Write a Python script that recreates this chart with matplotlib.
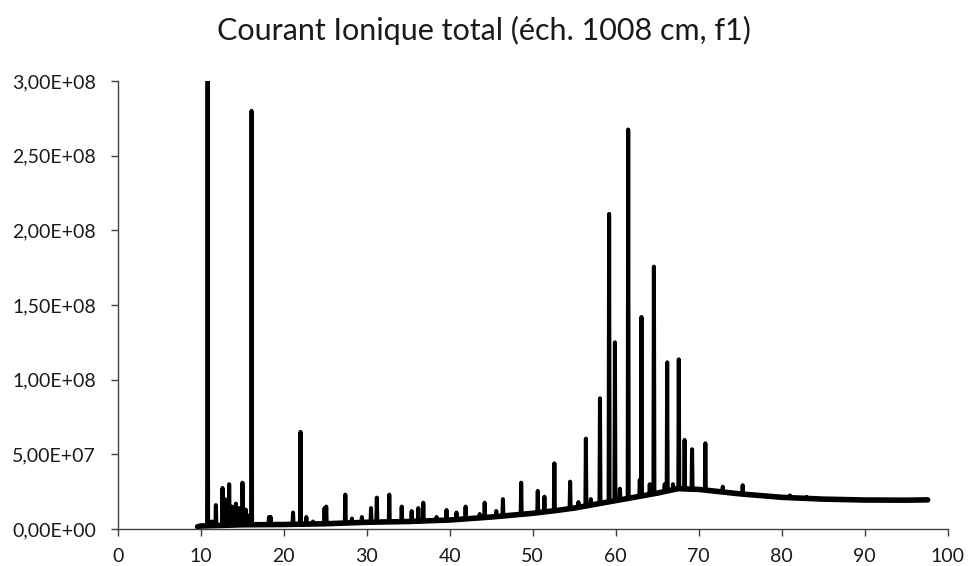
import numpy as np
import matplotlib
matplotlib.use("Agg")
import matplotlib.pyplot as plt
from matplotlib.ticker import FuncFormatter, MultipleLocator

title = "Courant Ionique total (éch. 1008 cm, f1)"

# baseline anchor points (retention time, intensity)
base_x = [9.6, 10.0, 15.0, 20.0, 25.0, 30.0, 35.0, 40.0, 45.0, 50.0, 53.0,
          55.0, 57.5, 60.0, 62.5, 65.0, 67.5, 70.0, 72.5, 75.0, 80.0, 85.0,
          90.0, 95.0, 97.6]
base_y = [1.5e6, 2.0e6, 2.8e6, 3.0e6, 3.5e6, 4.5e6, 5.0e6, 6.0e6, 8.0e6,
          10.5e6, 12.5e6, 14.0e6, 16.5e6, 19.0e6, 21.5e6, 24.0e6, 27.0e6,
          26.5e6, 25.0e6, 23.5e6, 21.2e6, 20.0e6, 19.4e6, 19.3e6, 19.5e6]

# peaks (retention time, apex intensity)
peak_x = [10.8, 11.3, 11.8, 12.6, 12.9, 13.4, 13.7, 14.2, 14.6, 15.0, 15.4,
          15.7, 16.1, 18.2, 18.4, 21.1, 22.0, 22.7, 23.5, 24.9, 25.1, 27.4,
          28.2, 29.4, 30.5, 31.2, 32.7, 34.2, 35.4, 36.2, 36.8, 38.4, 39.6,
          40.8, 41.9, 43.6, 44.2, 45.6, 46.4, 48.6, 50.6, 51.4, 52.6, 54.5,
          55.5, 56.4, 57.0, 58.1, 59.2, 59.9, 60.5, 61.5, 62.9, 63.1, 64.1,
          64.6, 65.9, 66.2, 66.9, 67.6, 68.3, 69.2, 70.8, 72.9, 75.3, 81.0,
          83.0]
peak_y = [3.00e8, 5e6, 16e6, 27.5e6, 20e6, 30e6, 15e6, 17e6, 14e6, 31e6,
          13e6, 9e6, 2.80e8, 8e6, 8e6, 11e6, 65e6, 8e6, 5e6, 14e6, 15e6,
          23e6, 7e6, 8e6, 14e6, 21e6, 23e6, 15e6, 12e6, 14e6, 17.6e6, 8e6,
          12.7e6, 11e6, 15e6, 10e6, 17.6e6, 12e6, 20e6, 31e6, 25.5e6,
          21.6e6, 44e6, 31.7e6, 18e6, 60.5e6, 20e6, 87.5e6, 2.11e8, 1.25e8,
          27e6, 2.675e8, 33e6, 1.42e8, 30e6, 1.757e8, 30e6, 1.116e8, 30e6,
          1.136e8, 59.6e6, 53.4e6, 57.4e6, 28.3e6, 29.3e6, 22.5e6, 21.5e6]

x_ticks = list(range(0, 101, 10))

# assemble the trace: baseline anchors plus each peak (foot, apex, foot)
half_w = 0.06
xs = list(base_x)
ys = list(base_y)
for px, py in zip(peak_x, peak_y):
    foot = float(np.interp(px, base_x, base_y))
    xs += [px - half_w, px, px + half_w]
    ys += [foot, py, foot]
order = np.argsort(xs, kind="stable")
xs = np.asarray(xs)[order]
ys = np.asarray(ys)[order]

plt.rcParams['font.family'] = ['Lato', 'DejaVu Sans']
fig = plt.figure(figsize=(9.68, 5.66), dpi=100)
ax = fig.add_axes([0.1219, 0.0654, 0.857, 0.7915])
# noisy baseline drawn a little heavier, then the full trace
ax.plot(base_x, base_y, color='black', lw=4.0, solid_capstyle='round')
ax.plot(xs, ys, color='black', lw=2.9, solid_joinstyle='round',
        solid_capstyle='round')
ax.set_xlim(0, 100)
ax.set_ylim(0, 3.0e8)
ax.set_xticks(x_ticks)
ax.yaxis.set_major_locator(MultipleLocator(5e7))
ax.yaxis.set_major_formatter(
    FuncFormatter(lambda v, p: f"{v:.2E}".replace('.', ',')))
for s in ['top', 'right']:
    ax.spines[s].set_visible(False)
for s in ['left', 'bottom']:
    ax.spines[s].set_color('#404040')
    ax.spines[s].set_linewidth(1.0)
ax.tick_params(axis='both', direction='out', length=5, width=1.0,
               color='#404040', labelsize=14, labelcolor='#1a1a1a')
ax.tick_params(axis='x', pad=9)
ax.tick_params(axis='y', pad=11)
fig.text(0.5, 1 - 40 / 566, title, ha='center', va='baseline', fontsize=22,
         color='#1a1a1a')
fig.savefig('out.png', dpi=100)
